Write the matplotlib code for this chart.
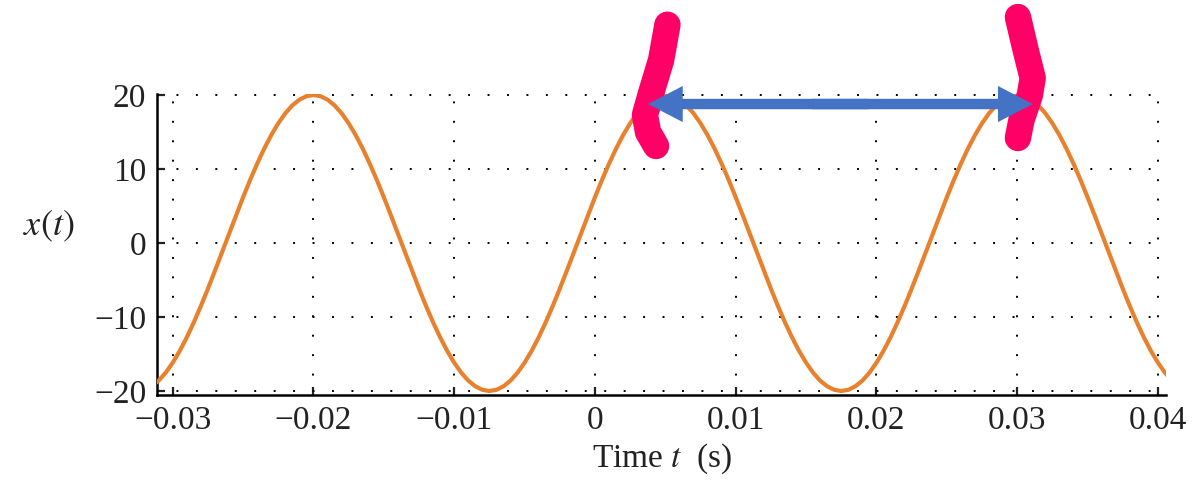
import numpy as np
import matplotlib
matplotlib.use("Agg")
import matplotlib.pyplot as plt

t_vals = [round(-0.032 + 0.0005 * k, 5) for k in range(147)]
x_vals = [
    -19.84, -19.37, -18.60, -17.53, -16.18, -14.58, -12.75, -10.72, -8.52, -6.18,
    -3.75, -1.26, 1.26, 3.75, 6.18, 8.52, 10.72, 12.75, 14.58, 16.18,
    17.53, 18.60, 19.37, 19.84, 20.00, 19.84, 19.37, 18.60, 17.53, 16.18,
    14.58, 12.75, 10.72, 8.52, 6.18, 3.75, 1.26, -1.26, -3.75, -6.18,
    -8.52, -10.72, -12.75, -14.58, -16.18, -17.53, -18.60, -19.37, -19.84, -20.00,
    -19.84, -19.37, -18.60, -17.53, -16.18, -14.58, -12.75, -10.72, -8.52, -6.18,
    -3.75, -1.26, 1.26, 3.75, 6.18, 8.52, 10.72, 12.75, 14.58, 16.18,
    17.53, 18.60, 19.37, 19.84, 20.00, 19.84, 19.37, 18.60, 17.53, 16.18,
    14.58, 12.75, 10.72, 8.52, 6.18, 3.75, 1.26, -1.26, -3.75, -6.18,
    -8.52, -10.72, -12.75, -14.58, -16.18, -17.53, -18.60, -19.37, -19.84, -20.00,
    -19.84, -19.37, -18.60, -17.53, -16.18, -14.58, -12.75, -10.72, -8.52, -6.18,
    -3.75, -1.26, 1.26, 3.75, 6.18, 8.52, 10.72, 12.75, 14.58, 16.18,
    17.53, 18.60, 19.37, 19.84, 20.00, 19.84, 19.37, 18.60, 17.53, 16.18,
    14.58, 12.75, 10.72, 8.52, 6.18, 3.75, 1.26, -1.26, -3.75, -6.18,
    -8.52, -10.72, -12.75, -14.58, -16.18, -17.53, -18.60]

xticks = [-0.03, -0.02, -0.01, 0, 0.01, 0.02, 0.03, 0.04]
xtick_labels = ["\u22120.03", "\u22120.02", "\u22120.01", "0", "0.01", "0.02", "0.03", "0.04"]
yticks = [-20, -10, 0, 10, 20]
ytick_labels = ["\u221220", "\u221210", "0", "10", "20"]

# hand-drawn annotation strokes (data coords)
pink_left_t = [0.00515, 0.00470, 0.00395, 0.00355, 0.00377, 0.00434]
pink_left_y = [29.5, 24.73, 20.0, 17.30, 15.0, 13.11]
pink_right_t = [0.03005, 0.0306, 0.0311, 0.0309, 0.0303, 0.03005]
pink_right_y = [30.54, 26.08, 22.3, 20.0, 16.6, 14.19]
arrow_t = [0.00377, 0.0311]
arrow_y = 18.78

plt.rcParams['font.family'] = ['Liberation Serif', 'DejaVu Serif']
plt.rcParams['mathtext.fontset'] = 'stix'

fig = plt.figure(figsize=(11.93, 4.92), dpi=100)
ax = fig.add_axes([0.1318, 0.1978, 0.8459, 0.6106])

ax.plot(t_vals, x_vals, color='#E8812E', lw=3.0, solid_capstyle='butt',
        solid_joinstyle='round', zorder=3)

ax.set_xlim(-0.0311, 0.0406)
ax.set_ylim(-20.5, 20.1)
ax.set_xticks(xticks)
ax.set_xticklabels(xtick_labels)
ax.set_yticks(yticks)
ax.set_yticklabels(ytick_labels)

ax.grid(True, color='black', linestyle=(0, (1, 9)), lw=1.4)
ax.set_axisbelow(True)
for s in ['top', 'right']:
    ax.spines[s].set_visible(False)
for s in ['left', 'bottom']:
    ax.spines[s].set_linewidth(1.8)
ax.tick_params(direction='in', length=6, width=1.6, labelsize=24, pad=8, colors='#222222')

ax.set_xlabel("Time $t$  (s)", fontsize=24, labelpad=4, color='#222222')
ax.set_ylabel("$x(t)$", fontsize=26, rotation=0, color='#222222')
ax.yaxis.set_label_coords(-0.108, 0.5)

# annotations
ax.plot(pink_left_t, pink_left_y, color='#FF0066', lw=19, solid_capstyle='round',
        solid_joinstyle='round', clip_on=False, zorder=5)
ax.plot(pink_right_t, pink_right_y, color='#FF0066', lw=19, solid_capstyle='round',
        solid_joinstyle='round', clip_on=False, zorder=5)
mid = (arrow_t[0] + arrow_t[1]) / 2
overlap = 0.002
for tip, sgn in zip(arrow_t, [1, -1]):
    ax.annotate('', xy=(tip, arrow_y), xytext=(mid + sgn * overlap, arrow_y),
                arrowprops=dict(arrowstyle='simple,head_length=25,head_width=26,tail_width=7.5',
                                mutation_scale=1, color='#4472C4', lw=0,
                                shrinkA=0, shrinkB=0),
                annotation_clip=False, zorder=6)

fig.savefig('out.png', dpi=100)
